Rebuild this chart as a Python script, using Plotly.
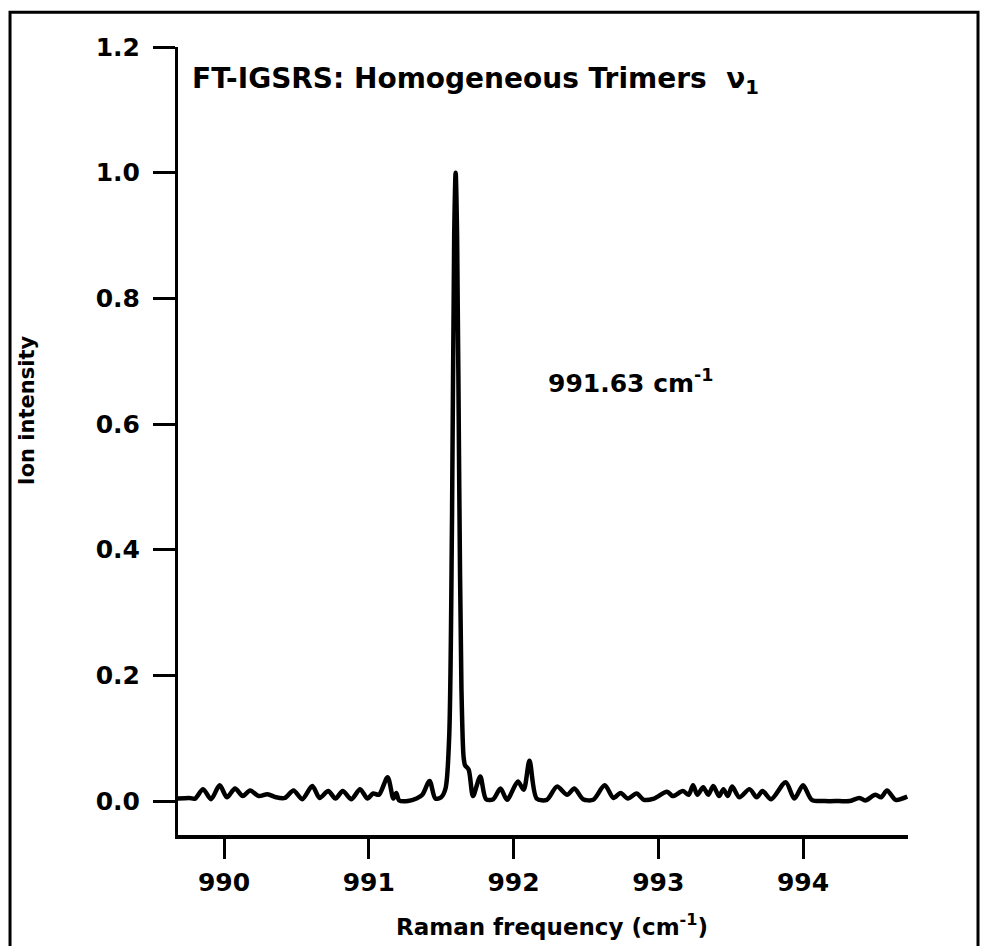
import plotly.graph_objects as go

# Raman frequency (cm^-1) and ion intensity
freq = [989.68, 989.76, 989.80, 989.855, 989.91, 989.97, 990.02, 990.076, 990.13, 990.18,
        990.24, 990.30, 990.36, 990.42, 990.48, 990.54, 990.61, 990.66, 990.72, 990.77,
        990.82, 990.88, 990.94, 990.99, 991.03, 991.07, 991.13, 991.17, 991.19, 991.21,
        991.27, 991.33, 991.37, 991.42, 991.46, 991.50, 991.53, 991.555, 991.575, 991.59,
        991.60, 991.61, 991.625, 991.64, 991.655, 991.665, 991.69, 991.72, 991.77, 991.81,
        991.86, 991.91, 991.955, 992.03, 992.07, 992.11, 992.16, 992.23, 992.30, 992.37,
        992.42, 992.48, 992.55, 992.63, 992.69, 992.74, 992.79, 992.85, 992.90, 992.97,
        993.06, 993.10, 993.17, 993.21, 993.24, 993.27, 993.31, 993.345, 993.38, 993.42,
        993.45, 993.48, 993.51, 993.56, 993.63, 993.68, 993.72, 993.78, 993.88, 993.94,
        994.00, 994.06, 994.15, 994.25, 994.32, 994.39, 994.43, 994.50, 994.54, 994.58,
        994.64, 994.72]
intensity = [0.004, 0.005, 0.004, 0.019, 0.003, 0.025, 0.006, 0.020, 0.008, 0.017,
             0.008, 0.011, 0.006, 0.005, 0.017, 0.003, 0.024, 0.005, 0.016, 0.004,
             0.016, 0.003, 0.019, 0.004, 0.012, 0.010, 0.038, 0.004, 0.013, 0.001,
             0.000, 0.004, 0.010, 0.032, 0.004, 0.006, 0.020, 0.100, 0.450, 0.900,
             1.000, 0.900, 0.500, 0.180, 0.070, 0.057, 0.050, 0.008, 0.039, 0.003,
             0.003, 0.020, 0.002, 0.031, 0.018, 0.064, 0.004, 0.002, 0.023, 0.010,
             0.020, 0.003, 0.002, 0.025, 0.005, 0.013, 0.004, 0.012, 0.002, 0.004,
             0.015, 0.008, 0.016, 0.010, 0.025, 0.010, 0.022, 0.010, 0.024, 0.008,
             0.019, 0.008, 0.023, 0.006, 0.019, 0.006, 0.016, 0.003, 0.030, 0.004,
             0.025, 0.002, 0.000, 0.000, 0.000, 0.005, 0.001, 0.010, 0.006, 0.017,
             0.002, 0.007]

x_ticks = [990, 991, 992, 993, 994]
y_ticks = [0.0, 0.2, 0.4, 0.6, 0.8, 1.0, 1.2]

FONT = "DejaVu Sans"

fig = go.Figure()
fig.add_trace(go.Scatter(x=freq, y=intensity, mode="lines",
                         line=dict(color="black", width=4.5, shape="spline", smoothing=0.8),
                         hoverinfo="skip", showlegend=False))

fig.update_layout(
    width=981, height=946,
    margin=dict(l=178, r=73, t=47, b=111),
    paper_bgcolor="white", plot_bgcolor="white",
    font=dict(family=FONT, color="black"),
    xaxis=dict(range=[989.682, 994.725], tickvals=x_ticks, ticktext=[str(v) for v in x_ticks],
               showline=True, linewidth=4, linecolor="black", ticks="outside",
               ticklen=20, tickwidth=3, tickcolor="black", showgrid=False, zeroline=False,
               tickfont=dict(family=FONT, size=25, color="black", weight="bold"),
               ticklabelstandoff=2),
    yaxis=dict(range=[-0.054, 1.2], tickvals=y_ticks, ticktext=[f"{v:.1f}" for v in y_ticks],
               showline=True, linewidth=3, linecolor="black", ticks="outside",
               ticklen=22, tickwidth=3, tickcolor="black", showgrid=False, zeroline=False,
               tickfont=dict(family=FONT, size=25, color="black", weight="bold"),
               ticklabelstandoff=8),
)

fig.add_annotation(xref="paper", yref="paper", x=0.0164, y=0.957, xanchor="left", yanchor="middle",
                   text="FT-IGSRS: Homogeneous Trimers  ν<sub>1</sub>", showarrow=False,
                   font=dict(family=FONT, size=28, color="black", weight="bold"))
fig.add_annotation(xref="x", yref="y", x=992.225, y=0.668, xanchor="left", yanchor="middle",
                   text="991.63 cm<sup>-1</sup>", showarrow=False,
                   font=dict(family=FONT, size=25, color="black", weight="bold"))
fig.add_annotation(xref="paper", yref="paper", x=-0.207, y=0.539, xanchor="center", yanchor="middle",
                   text="Ion intensity", textangle=-90, showarrow=False,
                   font=dict(family=FONT, size=21, color="black", weight="bold"))
fig.add_annotation(xref="paper", yref="paper", x=0.512, y=-0.114, xanchor="center", yanchor="middle",
                   text="Raman frequency (cm<sup>-1</sup>)", showarrow=False,
                   font=dict(family=FONT, size=23, color="black", weight="bold"))

# outer frame of the figure (left, top, right edges)
fig.add_shape(type="path", xref="paper", yref="paper",
              path="M -0.2301,-0.15 L -0.2301,1.044 L 1.0959,1.044 L 1.0959,-0.15",
              line=dict(color="black", width=3))

fig.write_html("out.html")
